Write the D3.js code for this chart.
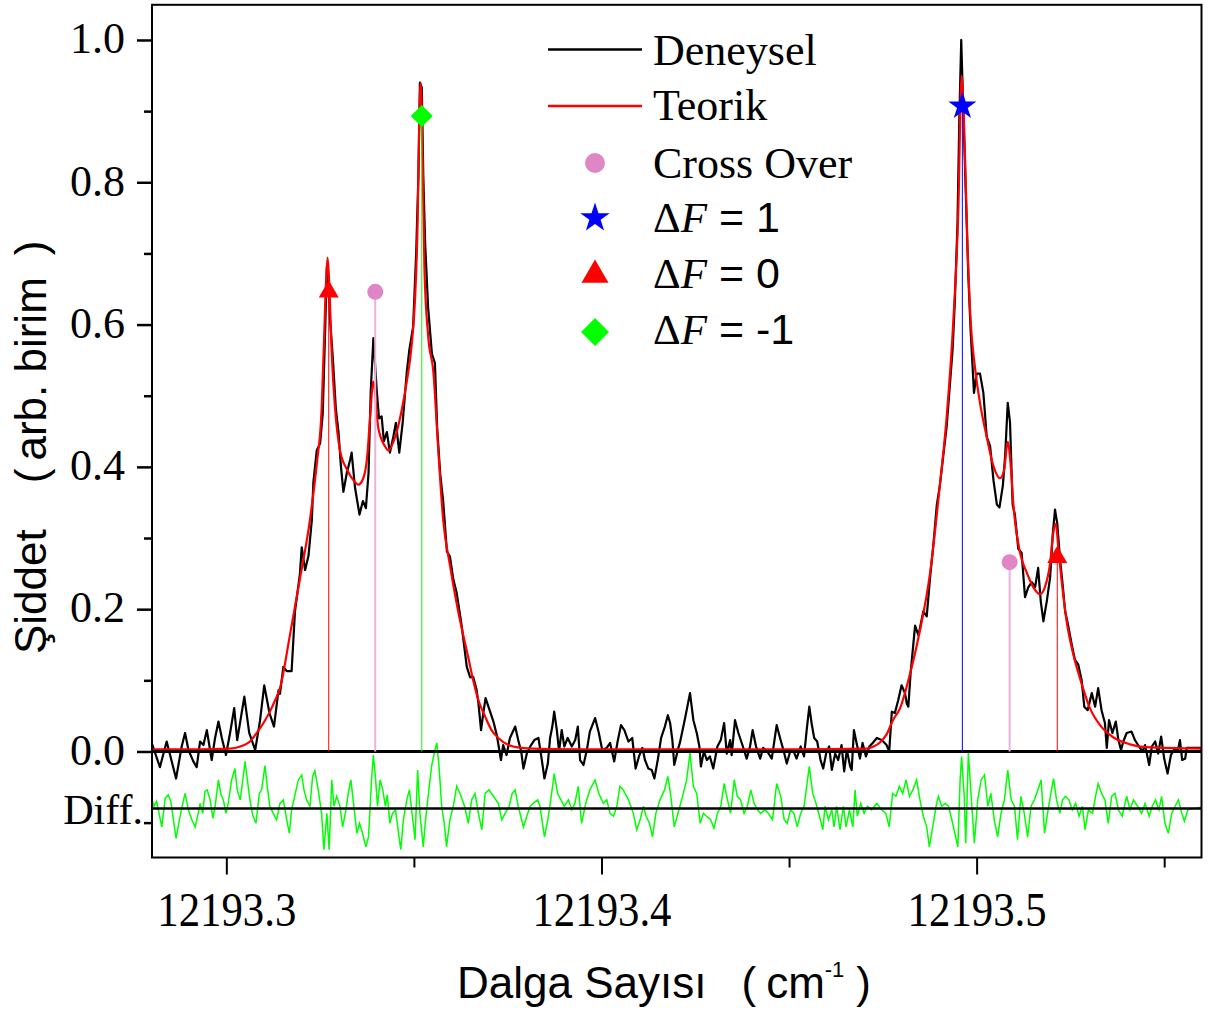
<!DOCTYPE html>
<html><head><meta charset="utf-8">
<script src="https://cdn.jsdelivr.net/npm/d3@7"></script>
<style>body{margin:0;background:#fff}svg{display:block}</style>
</head><body><svg id="c" width="1208" height="1014"></svg>
<script>
// ---------- DATA ----------
const expWn = [12193.2801,12193.2823,12193.2841,12193.2866,12193.2881,12193.2890,12193.2899,12193.2912,12193.2921,12193.2930,12193.2939,12193.2948,12193.2961,12193.2970,12193.2979,12193.2988,12193.2999,12193.3010,12193.3021,12193.3029,12193.3048,12193.3061,12193.3077,12193.3090,12193.3101,12193.3115,12193.3127,12193.3139,12193.3143,12193.3152,12193.3161,12193.3174,12193.3183,12193.3196,12193.3201,12193.3210,12193.3219,12193.3228,12193.3232,12193.3241,12193.3250,12193.3257,12193.3263,12193.3268,12193.3272,12193.3276,12193.3284,12193.3292,12193.3299,12193.3305,12193.3312,12193.3321,12193.3330,12193.3334,12193.3343,12193.3355,12193.3364,12193.3372,12193.3379,12193.3385,12193.3392,12193.3401,12193.3407,12193.3414,12193.3420,12193.3428,12193.3436,12193.3445,12193.3452,12193.3461,12193.3470,12193.3481,12193.3488,12193.3498,12193.3506,12193.3512,12193.3516,12193.3521,12193.3525,12193.3530,12193.3538,12193.3548,12193.3556,12193.3562,12193.3570,12193.3578,12193.3588,12193.3596,12193.3605,12193.3614,12193.3627,12193.3641,12193.3650,12193.3658,12193.3667,12193.3672,12193.3679,12193.3685,12193.3691,12193.3700,12193.3712,12193.3721,12193.3732,12193.3738,12193.3747,12193.3756,12193.3770,12193.3778,12193.3786,12193.3792,12193.3801,12193.3810,12193.3821,12193.3832,12193.3841,12193.3848,12193.3857,12193.3863,12193.3869,12193.3874,12193.3881,12193.3887,12193.3894,12193.3901,12193.3910,12193.3921,12193.3930,12193.3937,12193.3943,12193.3952,12193.3961,12193.3969,12193.3983,12193.3993,12193.4002,12193.4014,12193.4023,12193.4034,12193.4043,12193.4052,12193.4061,12193.4072,12193.4082,12193.4091,12193.4100,12193.4109,12193.4116,12193.4125,12193.4134,12193.4141,12193.4150,12193.4159,12193.4169,12193.4177,12193.4183,12193.4189,12193.4194,12193.4205,12193.4209,12193.4223,12193.4236,12193.4245,12193.4254,12193.4261,12193.4265,12193.4273,12193.4281,12193.4289,12193.4298,12193.4309,12193.4318,12193.4327,12193.4334,12193.4343,12193.4347,12193.4356,12193.4365,12193.4377,12193.4387,12193.4396,12193.4403,12193.4412,12193.4423,12193.4431,12193.4442,12193.4454,12193.4467,12193.4476,12193.4485,12193.4494,12193.4503,12193.4511,12193.4520,12193.4531,12193.4540,12193.4547,12193.4554,12193.4560,12193.4567,12193.4575,12193.4584,12193.4591,12193.4600,12193.4607,12193.4614,12193.4623,12193.4631,12193.4640,12193.4647,12193.4654,12193.4663,12193.4667,12193.4673,12193.4680,12193.4689,12193.4696,12193.4705,12193.4714,12193.4723,12193.4734,12193.4747,12193.4760,12193.4767,12193.4774,12193.4782,12193.4791,12193.4800,12193.4809,12193.4814,12193.4818,12193.4824,12193.4836,12193.4845,12193.4858,12193.4867,12193.4876,12193.4885,12193.4894,12193.4902,12193.4911,12193.4920,12193.4929,12193.4936,12193.4942,12193.4949,12193.4954,12193.4959,12193.4965,12193.4972,12193.4978,12193.4984,12193.4993,12193.5000,12193.5009,12193.5018,12193.5027,12193.5036,12193.5045,12193.5054,12193.5061,12193.5070,12193.5076,12193.5083,12193.5089,12193.5096,12193.5102,12193.5111,12193.5120,12193.5129,12193.5138,12193.5147,12193.5156,12193.5164,12193.5171,12193.5178,12193.5187,12193.5196,12193.5203,12193.5209,12193.5215,12193.5222,12193.5230,12193.5236,12193.5244,12193.5254,12193.5262,12193.5271,12193.5280,12193.5287,12193.5296,12193.5307,12193.5316,12193.5324,12193.5333,12193.5342,12193.5347,12193.5353,12193.5362,12193.5371,12193.5378,12193.5385,12193.5391,12193.5400,12193.5413,12193.5422,12193.5433,12193.5442,12193.5449,12193.5460,12193.5467,12193.5476,12193.5484,12193.5492,12193.5500,12193.5509,12193.5518,12193.5529,12193.5536,12193.5542,12193.5548,12193.5556,12193.5560,12193.5600];
const expInt = [0.012,-0.022,0.014,-0.038,0.007,0.026,0.002,-0.014,-0.022,0.014,0.009,0.030,-0.012,0.019,0.042,0.019,-0.005,0.026,0.061,0.016,0.077,0.026,0.002,0.044,0.093,0.054,0.035,0.086,0.081,0.119,0.113,0.113,0.197,0.249,0.287,0.255,0.275,0.326,0.378,0.423,0.433,0.475,0.584,0.681,0.668,0.610,0.552,0.481,0.449,0.404,0.365,0.391,0.410,0.420,0.371,0.333,0.352,0.342,0.391,0.507,0.581,0.507,0.468,0.471,0.436,0.449,0.420,0.442,0.462,0.420,0.462,0.533,0.565,0.597,0.700,0.810,0.940,0.933,0.810,0.714,0.623,0.559,0.546,0.455,0.391,0.352,0.281,0.274,0.242,0.223,0.178,0.119,0.104,0.105,0.087,0.068,0.030,0.054,0.075,0.061,0.042,0.023,-0.012,0.009,-0.005,0.019,0.035,0.016,0.000,-0.024,-0.003,0.007,0.016,0.019,-0.012,-0.038,-0.017,0.019,0.035,0.056,0.030,0.000,0.030,0.007,0.019,0.007,0.016,0.035,-0.012,-0.019,0.002,0.028,0.047,0.026,0.002,0.005,0.012,-0.014,0.014,0.037,0.030,0.014,0.019,-0.024,-0.007,0.005,-0.012,-0.024,-0.026,-0.038,-0.012,0.019,0.035,0.051,0.040,0.016,-0.019,0.005,0.012,0.047,0.082,0.044,0.026,0.007,-0.021,0.000,-0.012,-0.007,-0.024,0.007,0.016,0.040,-0.003,0.016,-0.005,0.044,0.026,0.007,-0.010,0.007,0.030,0.007,-0.010,0.005,0.000,-0.010,0.037,0.019,0.002,-0.017,0.000,0.002,-0.010,0.007,-0.007,0.030,0.063,0.040,0.019,0.014,-0.012,-0.024,0.000,0.007,-0.026,-0.003,-0.012,0.009,-0.028,0.002,-0.021,-0.026,0.030,0.012,-0.010,0.012,-0.007,0.007,0.012,0.019,0.016,0.009,0.000,0.056,0.054,0.072,0.093,0.082,0.067,0.063,0.110,0.177,0.163,0.197,0.190,0.245,0.292,0.347,0.374,0.415,0.456,0.517,0.565,0.633,0.742,0.892,1.000,0.892,0.769,0.667,0.592,0.504,0.531,0.531,0.504,0.442,0.429,0.381,0.347,0.343,0.374,0.415,0.490,0.463,0.347,0.333,0.285,0.279,0.217,0.231,0.238,0.231,0.258,0.211,0.183,0.211,0.245,0.306,0.340,0.320,0.272,0.231,0.197,0.177,0.149,0.129,0.122,0.100,0.063,0.058,0.082,0.063,0.089,0.058,0.040,0.005,0.044,0.026,0.042,0.016,0.002,0.014,0.026,0.028,0.016,0.007,0.000,0.009,-0.019,0.007,0.014,-0.003,0.021,-0.010,-0.031,-0.005,0.005,0.000,0.016,-0.012,-0.010,0.005,0.005];

const theoWn = [12193.2802,12193.2930,12193.3010,12193.3037,12193.3063,12193.3081,12193.3099,12193.3116,12193.3130,12193.3143,12193.3170,12193.3196,12193.3223,12193.3241,12193.3254,12193.3260,12193.3266,12193.3270,12193.3275,12193.3281,12193.3290,12193.3303,12193.3321,12193.3339,12193.3352,12193.3365,12193.3376,12193.3383,12193.3392,12193.3405,12193.3423,12193.3432,12193.3450,12193.3468,12193.3481,12193.3494,12193.3503,12193.3510,12193.3514,12193.3518,12193.3524,12193.3528,12193.3538,12193.3552,12193.3565,12193.3578,12193.3596,12193.3618,12193.3645,12193.3658,12193.3672,12193.3690,12193.3707,12193.3725,12193.3752,12193.3787,12193.3858,12193.3996,12193.4263,12193.4529,12193.4707,12193.4725,12193.4743,12193.4760,12193.4778,12193.4796,12193.4822,12193.4849,12193.4876,12193.4902,12193.4920,12193.4938,12193.4951,12193.4960,12193.4966,12193.4975,12193.4984,12193.4996,12193.5009,12193.5027,12193.5045,12193.5062,12193.5073,12193.5083,12193.5091,12193.5098,12193.5116,12193.5134,12193.5151,12193.5169,12193.5182,12193.5196,12193.5204,12193.5211,12193.5218,12193.5227,12193.5240,12193.5258,12193.5276,12193.5302,12193.5329,12193.5364,12193.5409,12193.5453,12193.5601];
const theoInt = [0.003,0.003,0.004,0.007,0.014,0.026,0.040,0.056,0.072,0.089,0.165,0.242,0.326,0.404,0.481,0.571,0.662,0.694,0.649,0.559,0.481,0.423,0.397,0.381,0.375,0.384,0.417,0.468,0.520,0.455,0.429,0.423,0.442,0.481,0.520,0.571,0.636,0.746,0.875,0.940,0.810,0.681,0.584,0.533,0.423,0.326,0.262,0.197,0.132,0.100,0.072,0.049,0.030,0.019,0.009,0.005,0.0035,0.003,0.003,0.003,0.004,0.007,0.013,0.024,0.045,0.061,0.108,0.170,0.251,0.374,0.469,0.606,0.756,0.950,0.892,0.722,0.606,0.538,0.490,0.442,0.401,0.384,0.395,0.435,0.401,0.347,0.279,0.251,0.231,0.221,0.231,0.265,0.306,0.320,0.285,0.238,0.183,0.136,0.102,0.061,0.037,0.020,0.010,0.006,0.004];

const diffWn = [12193.2801,12193.2807,12193.2814,12193.2828,12193.2837,12193.2845,12193.2852,12193.2859,12193.2866,12193.2875,12193.2881,12193.2890,12193.2899,12193.2908,12193.2917,12193.2925,12193.2930,12193.2937,12193.2943,12193.2949,12193.2957,12193.2964,12193.2970,12193.2979,12193.2985,12193.2992,12193.2999,12193.3005,12193.3014,12193.3023,12193.3029,12193.3037,12193.3044,12193.3050,12193.3056,12193.3063,12193.3070,12193.3079,12193.3088,12193.3094,12193.3103,12193.3109,12193.3116,12193.3125,12193.3134,12193.3143,12193.3152,12193.3161,12193.3168,12193.3174,12193.3183,12193.3192,12193.3201,12193.3207,12193.3214,12193.3223,12193.3230,12193.3236,12193.3245,12193.3254,12193.3260,12193.3268,12193.3274,12193.3281,12193.3287,12193.3294,12193.3303,12193.3310,12193.3319,12193.3325,12193.3332,12193.3340,12193.3348,12193.3355,12193.3363,12193.3372,12193.3379,12193.3383,12193.3387,12193.3392,12193.3398,12193.3403,12193.3410,12193.3417,12193.3424,12193.3429,12193.3436,12193.3443,12193.3451,12193.3459,12193.3465,12193.3472,12193.3481,12193.3488,12193.3497,12193.3503,12193.3510,12193.3516,12193.3525,12193.3531,12193.3539,12193.3547,12193.3556,12193.3561,12193.3567,12193.3574,12193.3581,12193.3587,12193.3596,12193.3605,12193.3614,12193.3623,12193.3635,12193.3645,12193.3654,12193.3663,12193.3672,12193.3681,12193.3690,12193.3700,12193.3712,12193.3725,12193.3734,12193.3743,12193.3754,12193.3762,12193.3770,12193.3778,12193.3792,12193.3801,12193.3810,12193.3818,12193.3830,12193.3836,12193.3848,12193.3857,12193.3866,12193.3874,12193.3883,12193.3892,12193.3901,12193.3912,12193.3921,12193.3929,12193.3938,12193.3947,12193.3958,12193.3969,12193.3983,12193.3993,12193.4005,12193.4014,12193.4023,12193.4032,12193.4041,12193.4049,12193.4058,12193.4072,12193.4085,12193.4094,12193.4103,12193.4112,12193.4119,12193.4128,12193.4136,12193.4145,12193.4156,12193.4168,12193.4177,12193.4185,12193.4194,12193.4209,12193.4218,12193.4227,12193.4236,12193.4245,12193.4254,12193.4263,12193.4272,12193.4280,12193.4291,12193.4300,12193.4309,12193.4318,12193.4327,12193.4336,12193.4344,12193.4354,12193.4362,12193.4371,12193.4380,12193.4389,12193.4398,12193.4407,12193.4416,12193.4424,12193.4436,12193.4445,12193.4456,12193.4467,12193.4478,12193.4487,12193.4495,12193.4504,12193.4513,12193.4522,12193.4531,12193.4540,12193.4547,12193.4554,12193.4563,12193.4572,12193.4581,12193.4590,12193.4596,12193.4605,12193.4614,12193.4620,12193.4627,12193.4636,12193.4645,12193.4652,12193.4661,12193.4670,12193.4676,12193.4682,12193.4691,12193.4700,12193.4709,12193.4720,12193.4734,12193.4747,12193.4758,12193.4767,12193.4776,12193.4785,12193.4794,12193.4803,12193.4812,12193.4821,12193.4830,12193.4840,12193.4849,12193.4858,12193.4867,12193.4874,12193.4883,12193.4892,12193.4898,12193.4907,12193.4916,12193.4925,12193.4934,12193.4942,12193.4950,12193.4956,12193.4960,12193.4967,12193.4971,12193.4978,12193.4985,12193.4994,12193.5003,12193.5012,12193.5021,12193.5030,12193.5038,12193.5047,12193.5056,12193.5065,12193.5074,12193.5083,12193.5092,12193.5101,12193.5109,12193.5118,12193.5127,12193.5136,12193.5145,12193.5154,12193.5163,12193.5172,12193.5181,12193.5189,12193.5198,12193.5205,12193.5213,12193.5222,12193.5229,12193.5237,12193.5246,12193.5255,12193.5264,12193.5273,12193.5282,12193.5289,12193.5298,12193.5309,12193.5317,12193.5324,12193.5333,12193.5342,12193.5351,12193.5360,12193.5369,12193.5378,12193.5388,12193.5400,12193.5409,12193.5418,12193.5429,12193.5440,12193.5449,12193.5460,12193.5468,12193.5477,12193.5486,12193.5493,12193.5502,12193.5511,12193.5520,12193.5529,12193.5538,12193.5547,12193.5554,12193.5563,12193.5601];
const diffVal = [0.014,0.003,0.010,-0.026,0.014,0.019,0.010,-0.016,-0.042,-0.016,0.000,0.021,-0.002,-0.016,-0.026,-0.007,0.007,-0.007,0.024,0.026,0.012,-0.014,0.003,0.040,0.021,0.012,-0.007,0.007,0.040,0.056,0.026,0.012,0.040,0.066,0.040,0.012,-0.009,-0.021,0.021,0.026,0.060,0.031,0.003,-0.007,-0.016,0.007,0.012,-0.016,-0.035,-0.002,0.019,0.040,0.047,0.026,0.012,0.003,0.045,0.053,0.026,-0.007,-0.058,-0.007,-0.058,0.040,0.003,0.017,0.003,-0.026,-0.002,0.021,0.040,0.003,-0.035,-0.021,-0.035,-0.054,-0.040,-0.002,0.040,0.075,0.040,0.003,0.040,0.026,0.003,0.019,-0.021,-0.007,-0.002,-0.035,-0.058,-0.016,0.012,0.026,-0.016,-0.044,0.054,-0.007,-0.054,-0.016,0.021,0.059,0.082,0.092,0.059,0.003,-0.021,-0.054,-0.016,0.003,0.031,0.021,0.003,-0.021,0.012,0.021,-0.007,-0.030,0.021,0.026,0.017,0.007,-0.016,-0.007,0.003,0.021,0.026,0.003,-0.026,-0.011,0.003,0.007,0.012,0.003,-0.040,-0.016,0.017,0.049,0.021,0.012,0.003,0.012,-0.002,0.007,0.031,-0.021,0.007,0.026,0.040,0.021,0.007,0.012,-0.007,-0.011,0.003,0.031,0.026,0.012,-0.007,-0.030,-0.016,0.003,-0.011,-0.021,-0.040,-0.007,0.012,0.026,0.045,0.017,-0.026,0.003,0.021,0.040,0.078,0.031,0.021,-0.021,-0.007,-0.011,-0.016,-0.028,-0.007,0.003,0.035,0.012,-0.007,0.040,0.017,0.012,-0.007,0.003,0.026,0.007,-0.002,-0.007,-0.002,-0.007,-0.016,0.035,0.017,-0.016,-0.021,-0.002,-0.007,-0.026,-0.007,0.003,0.031,0.059,0.021,0.007,-0.011,-0.030,0.003,-0.016,-0.002,-0.026,0.003,-0.030,0.003,-0.026,-0.002,-0.026,0.026,-0.011,0.007,-0.007,0.003,-0.002,0.007,-0.002,-0.007,-0.026,0.021,0.017,0.031,0.021,0.040,0.017,0.026,0.040,0.012,-0.011,-0.026,-0.054,-0.026,0.003,0.017,0.003,0.007,0.003,-0.016,-0.035,-0.054,0.040,0.073,0.017,-0.049,0.078,0.021,-0.049,0.012,0.040,0.047,0.003,0.021,-0.016,-0.040,-0.007,0.012,0.054,0.012,0.003,-0.044,0.017,-0.007,-0.040,0.003,0.012,0.026,0.040,-0.035,-0.007,0.021,0.042,0.012,-0.007,0.012,0.017,0.012,-0.002,0.007,-0.011,0.003,-0.030,-0.002,-0.007,0.017,0.035,0.021,0.012,-0.021,0.017,0.021,-0.002,-0.011,0.017,-0.002,0.012,0.003,-0.007,0.007,-0.011,0.003,0.012,-0.002,0.017,-0.021,-0.035,-0.007,0.003,0.012,-0.007,-0.018,-0.002,0.002];
const diffOffset = -0.08;

// assignment markers (position, intensity)
const crossWn = [12193.3397, 12193.5088], crossInt = [0.646, 0.266];
const dF1Wn = [12193.4962], dF1Int = [0.907];
const dF0Wn = [12193.3273, 12193.5215], dF0Int = [0.646, 0.273];
const dFm1Wn = [12193.3521], dFm1Int = [0.893];

const yMajor = [0, 0.2, 0.4, 0.6, 0.8, 1.0];
const yMinor = [-0.1, 0.1, 0.3, 0.5, 0.7, 0.9];
const xMajor = [12193.3, 12193.4, 12193.5];
const xMinor = [12193.35, 12193.45, 12193.55];
const legendLabels = ["Deneysel", "Teorik", "Cross Over", "1", "0", "-1"];

// ---------- DRAW ----------
const SERIF = "'Liberation Serif','Times New Roman',serif";
const SANS = "'Liberation Sans',Arial,sans-serif";
const svg = d3.select("#c");
const x = d3.scaleLinear().domain([12193.28, 12193.56]).range([151.3, 1201.7]);
const y = d3.scaleLinear().domain([-0.15, 1.05]).range([858.2, 4.4]);
const X0 = 152, X1 = 1201.5, Y0 = 4.8, Y1 = 857.5;

svg.append("defs").append("clipPath").attr("id", "clip")
  .append("rect").attr("x", X0).attr("y", Y0).attr("width", X1 - X0).attr("height", Y1 - Y0);
const plot = svg.append("g").attr("clip-path", "url(#clip)");

const expData = d3.zip(expWn, expInt);
const theoData = d3.zip(theoWn, theoInt);
const diffData = d3.zip(diffWn, diffVal);

plot.append("path").datum(diffData)
  .attr("fill", "none").attr("stroke", "#00ff00").attr("stroke-width", 1.5)
  .attr("d", d3.line().x(d => x(d[0])).y(d => y(diffOffset + d[1])));
plot.append("line").attr("x1", X0).attr("x2", X1).attr("y1", y(diffOffset)).attr("y2", y(diffOffset))
  .attr("stroke", "#000").attr("stroke-width", 2.5);
plot.append("path").datum(expData)
  .attr("fill", "none").attr("stroke", "#000").attr("stroke-width", 2.2).attr("stroke-linejoin", "round")
  .attr("d", d3.line().x(d => x(d[0])).y(d => y(d[1])));
plot.append("path").datum(theoData)
  .attr("fill", "none").attr("stroke", "#ff0000").attr("stroke-width", 2.2)
  .attr("d", d3.line().curve(d3.curveMonotoneX).x(d => x(d[0])).y(d => y(d[1])));
plot.append("line").attr("x1", X0).attr("x2", X1).attr("y1", y(0)).attr("y2", y(0))
  .attr("stroke", "#000").attr("stroke-width", 3);

const groups = [
  {wn: crossWn, v: crossInt, stick: "#e8b2dc", sw: 2, fill: "#df87c6", sym: d3.symbolCircle, size: 201, rot: 0},
  {wn: dF0Wn, v: dF0Int, stick: "#ff0000", sw: 1, fill: "#ff0000", sym: d3.symbolTriangle, size: 173, rot: 0},
  {wn: dFm1Wn, v: dFm1Int, stick: "#00ff00", sw: 1, fill: "#00ff00", sym: d3.symbolSquare, size: 242, rot: 45},
  {wn: dF1Wn, v: dF1Int, stick: "#0000ff", sw: 1, fill: "#0000ff", sym: d3.symbolStar, size: 243, rot: 0}
];
groups.forEach(g => {
  plot.selectAll(null).data(d3.zip(g.wn, g.v)).enter().append("line")
    .attr("x1", d => x(d[0])).attr("x2", d => x(d[0]))
    .attr("y1", y(0)).attr("y2", d => y(d[1]))
    .attr("stroke", g.stick).attr("stroke-width", g.sw);
});
groups.forEach(g => {
  plot.selectAll(null).data(d3.zip(g.wn, g.v)).enter().append("path")
    .attr("transform", d => `translate(${x(d[0])},${y(d[1])}) rotate(${g.rot})`)
    .attr("d", d3.symbol().type(g.sym).size(g.size)).attr("fill", g.fill);
});

svg.append("rect").attr("x", X0).attr("y", Y0).attr("width", X1 - X0).attr("height", Y1 - Y0)
  .attr("fill", "none").attr("stroke", "#000").attr("stroke-width", 2);

// y axis
const yAx = svg.append("g").attr("transform", `translate(${X0},0)`)
  .call(d3.axisLeft(y).tickValues(yMajor).tickSize(15).tickPadding(12).tickFormat(d3.format(".1f")));
yAx.select(".domain").remove();
yAx.selectAll("line").attr("stroke-width", 2.5);
yAx.selectAll("text").attr("font-family", SERIF).attr("font-size", 44).attr("fill", "#000").attr("dy", "0.29em");
const yAxm = svg.append("g").attr("transform", `translate(${X0},0)`)
  .call(d3.axisLeft(y).tickValues(yMinor).tickSize(8).tickFormat(""));
yAxm.select(".domain").remove();
yAxm.selectAll("line").attr("stroke-width", 2.5);
svg.append("text").attr("x", 143).attr("y", 824).attr("text-anchor", "end")
  .attr("font-family", SERIF).attr("font-size", 42).text("Diff.");

// x axis
const xAx = svg.append("g").attr("transform", `translate(0,${Y1})`)
  .call(d3.axisBottom(x).tickValues(xMajor).tickSize(17).tickFormat(d3.format(".1f")));
xAx.select(".domain").remove();
xAx.selectAll("line").attr("stroke-width", 2);
xAx.selectAll("text").attr("font-family", SERIF).attr("font-size", 48).attr("fill", "#000")
  .attr("y", 68.5).attr("dy", 0).attr("textLength", 139).attr("lengthAdjust", "spacingAndGlyphs");
const xAxm = svg.append("g").attr("transform", `translate(0,${Y1})`)
  .call(d3.axisBottom(x).tickValues(xMinor).tickSize(10).tickFormat(""));
xAxm.select(".domain").remove();
xAxm.selectAll("line").attr("stroke-width", 2);

// axis titles
const xt = svg.append("text").attr("x", 457).attr("y", 998).attr("font-family", SANS).attr("font-size", 44);
xt.append("tspan").text("Dalga Sayısı");
xt.append("tspan").attr("dx", 35).text("(");
xt.append("tspan").attr("dx", 10).text("cm");
xt.append("tspan").attr("font-size", 22).attr("dy", -21).text("-1");
xt.append("tspan").attr("dx", 12).attr("dy", 21).text(")");
const yt = svg.append("text").attr("transform", "translate(46,654) rotate(-90)")
  .attr("font-family", SANS).attr("font-size", 44);
yt.append("tspan").text("Şiddet");
yt.append("tspan").attr("dx", 46).text("(");
yt.append("tspan").attr("dx", 8).text("arb. birim");
yt.append("tspan").attr("dx", 22).text(")");

// legend
const lg = svg.append("g");
const rowY = [49.5, 106, 163, 218, 275, 332];
const baseY = [65, 120, 178, 232, 288, 344];
const lx = 653;
lg.append("line").attr("x1", 548).attr("x2", 642).attr("y1", rowY[0]).attr("y2", rowY[0]).attr("stroke", "#000").attr("stroke-width", 2.5);
lg.append("line").attr("x1", 548).attr("x2", 642).attr("y1", rowY[1]).attr("y2", rowY[1]).attr("stroke", "#ff0000").attr("stroke-width", 2.5);
const legSyms = [
  {row: 2, sym: d3.symbolCircle, size: 314, fill: "#df87c6", rot: 0},
  {row: 3, sym: d3.symbolStar, size: 270, fill: "#0000ff", rot: 0},
  {row: 4, sym: d3.symbolTriangle, size: 315, fill: "#ff0000", rot: 0},
  {row: 5, sym: d3.symbolSquare, size: 392, fill: "#00ff00", rot: 45}
];
legSyms.forEach(s => lg.append("path").attr("transform", `translate(595,${rowY[s.row]}) rotate(${s.rot})`)
  .attr("d", d3.symbol().type(s.sym).size(s.size)).attr("fill", s.fill));
[0, 1, 2].forEach(i => lg.append("text").attr("x", lx).attr("y", baseY[i])
  .attr("font-family", SERIF).attr("font-size", 44).text(legendLabels[i]));
[3, 4, 5].forEach(i => {
  const t = lg.append("text").attr("x", lx).attr("y", baseY[i]).attr("font-size", 43);
  t.append("tspan").attr("font-family", SERIF).text("Δ");
  t.append("tspan").attr("font-family", SERIF).attr("font-style", "italic").text("F");
  t.append("tspan").attr("font-family", SANS).text(" = " + legendLabels[i]);
});
</script></body></html>
